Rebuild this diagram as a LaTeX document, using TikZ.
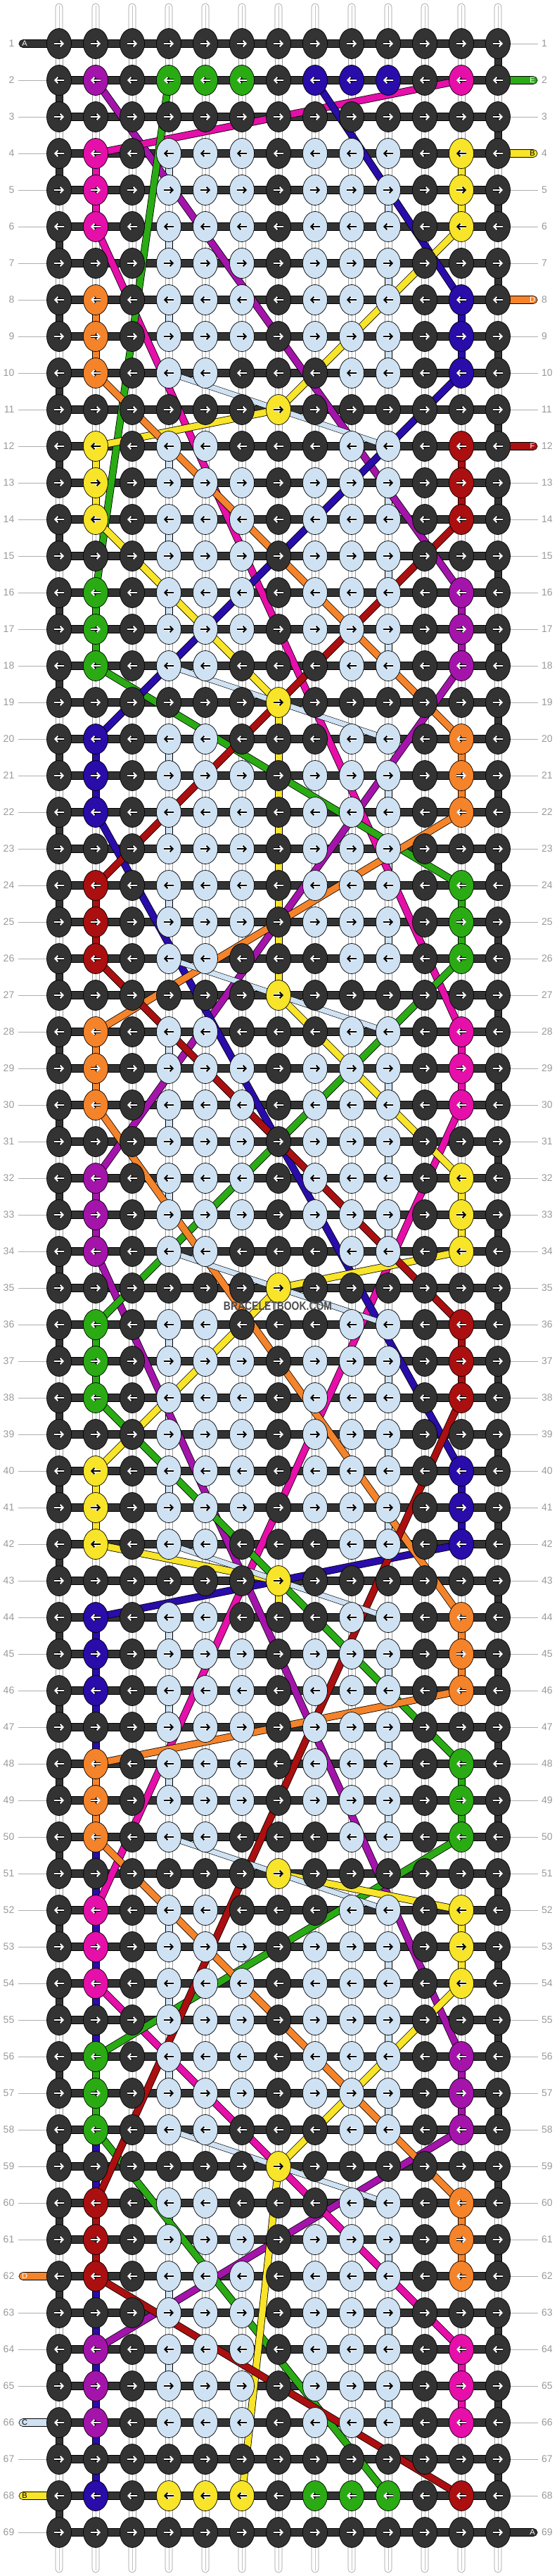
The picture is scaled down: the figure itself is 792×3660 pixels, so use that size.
\documentclass[tikz,border=0pt]{standalone}
\usepackage{fontspec}
\setmainfont{Liberation Sans}
\usetikzlibrary{shapes.geometric,arrows.meta}

\definecolor{cD}{HTML}{333333}
\definecolor{cL}{HTML}{CFE2F3}
\definecolor{cP}{HTML}{E60FAA}
\definecolor{cV}{HTML}{A414AB}
\definecolor{cG}{HTML}{2AAB14}
\definecolor{cB}{HTML}{290CAA}
\definecolor{cY}{HTML}{F8E428}
\definecolor{cO}{HTML}{F5832A}
\definecolor{cR}{HTML}{AB0F10}
\definecolor{rowgray}{HTML}{9A9A9A}

\pgfdeclarelayer{warps}
\pgfdeclarelayer{threads}
\pgfsetlayers{warps,threads,main}

\tikzset{
  ink D/.style={draw=white,line width=2pt}, halo D/.style={draw=black,line width=3.6pt},
  ink P/.style={draw=white,line width=2pt}, halo P/.style={draw=black,line width=3.6pt},
  ink V/.style={draw=white,line width=2pt}, halo V/.style={draw=black,line width=3.6pt},
  ink G/.style={draw=white,line width=2pt}, halo G/.style={draw=black,line width=3.6pt},
  ink B/.style={draw=white,line width=2pt}, halo B/.style={draw=black,line width=3.6pt},
  ink O/.style={draw=white,line width=2pt}, halo O/.style={draw=black,line width=3.6pt},
  ink R/.style={draw=white,line width=2pt}, halo R/.style={draw=black,line width=3.6pt},
  ink L/.style={draw=black,line width=2pt}, halo L/.style={draw=white,line width=3.6pt},
  ink Y/.style={draw=black,line width=2pt}, halo Y/.style={draw=white,line width=3.6pt},
}

\begin{document}
\begin{tikzpicture}[x=1pt,y=-1pt,
   knot/.style={ellipse, draw=black, line width=0.7pt, minimum width=35pt, minimum height=43pt, inner sep=0pt},
   tip/.style={-{Straight Barb[length=4pt,width=8.5pt]}},
   thread/.style={line width=0.8pt, draw=black, double=#1, double distance=9pt},
   cthread/.style={line width=0.6pt, draw=black, double=cL, double distance=7pt},
   warp/.style={fill=white, draw=rowgray, line width=0.6pt},
   seg/.style={fill=#1, draw=black, line width=0.6pt},
   bar/.style={fill=cD, draw=black, line width=0.6pt},
   tagbar/.style={fill=#1, draw=black, line width=0.6pt, rounded corners=5.5pt},
   rownum/.style={text=rowgray, inner sep=0pt, font=\fontsize{14}{14}\selectfont},
   tag/.style={inner sep=0pt, font=\fontsize{11}{11}\selectfont},
   gridline/.style={draw=rowgray!80, line width=0.8pt}]
\useasboundingbox (0,0) rectangle (792,3660);

% knots, one row per line
\foreach \r/\row in {
  1/{D,D,D,D,D,D,D,D,D,D,D,D,D},
  2/{D,V,D,G,G,G,D,B,B,B,D,P,D},
  3/{D,D,D,D,D,D,D,D,D,D,D,D,D},
  4/{D,P,D,L,L,L,D,L,L,L,D,Y,D},
  5/{D,P,D,L,L,L,D,L,L,L,D,Y,D},
  6/{D,P,D,L,L,L,D,L,L,L,D,Y,D},
  7/{D,D,D,L,L,L,D,L,L,L,D,D,D},
  8/{D,O,D,L,L,L,D,L,L,L,D,B,D},
  9/{D,O,D,L,L,L,D,L,L,L,D,B,D},
  10/{D,O,D,L,L,D,D,D,L,L,D,B,D},
  11/{D,D,D,D,D,D,Y,D,D,D,D,D,D},
  12/{D,Y,D,L,L,D,D,D,L,L,D,R,D},
  13/{D,Y,D,L,L,L,D,L,L,L,D,R,D},
  14/{D,Y,D,L,L,L,D,L,L,L,D,R,D},
  15/{D,D,D,L,L,L,D,L,L,L,D,D,D},
  16/{D,G,D,L,L,L,D,L,L,L,D,V,D},
  17/{D,G,D,L,L,L,D,L,L,L,D,V,D},
  18/{D,G,D,L,L,D,D,D,L,L,D,V,D},
  19/{D,D,D,D,D,D,Y,D,D,D,D,D,D},
  20/{D,B,D,L,L,D,D,D,L,L,D,O,D},
  21/{D,B,D,L,L,L,D,L,L,L,D,O,D},
  22/{D,B,D,L,L,L,D,L,L,L,D,O,D},
  23/{D,D,D,L,L,L,D,L,L,L,D,D,D},
  24/{D,R,D,L,L,L,D,L,L,L,D,G,D},
  25/{D,R,D,L,L,L,D,L,L,L,D,G,D},
  26/{D,R,D,L,L,D,D,D,L,L,D,G,D},
  27/{D,D,D,D,D,D,Y,D,D,D,D,D,D},
  28/{D,O,D,L,L,D,D,D,L,L,D,P,D},
  29/{D,O,D,L,L,L,D,L,L,L,D,P,D},
  30/{D,O,D,L,L,L,D,L,L,L,D,P,D},
  31/{D,D,D,L,L,L,D,L,L,L,D,D,D},
  32/{D,V,D,L,L,L,D,L,L,L,D,Y,D},
  33/{D,V,D,L,L,L,D,L,L,L,D,Y,D},
  34/{D,V,D,L,L,D,D,D,L,L,D,Y,D},
  35/{D,D,D,D,D,D,Y,D,D,D,D,D,D},
  36/{D,G,D,L,L,D,D,D,L,L,D,R,D},
  37/{D,G,D,L,L,L,D,L,L,L,D,R,D},
  38/{D,G,D,L,L,L,D,L,L,L,D,R,D},
  39/{D,D,D,L,L,L,D,L,L,L,D,D,D},
  40/{D,Y,D,L,L,L,D,L,L,L,D,B,D},
  41/{D,Y,D,L,L,L,D,L,L,L,D,B,D},
  42/{D,Y,D,L,L,D,D,D,L,L,D,B,D},
  43/{D,D,D,D,D,D,Y,D,D,D,D,D,D},
  44/{D,B,D,L,L,D,D,D,L,L,D,O,D},
  45/{D,B,D,L,L,L,D,L,L,L,D,O,D},
  46/{D,B,D,L,L,L,D,L,L,L,D,O,D},
  47/{D,D,D,L,L,L,D,L,L,L,D,D,D},
  48/{D,O,D,L,L,L,D,L,L,L,D,G,D},
  49/{D,O,D,L,L,L,D,L,L,L,D,G,D},
  50/{D,O,D,L,L,D,D,D,L,L,D,G,D},
  51/{D,D,D,D,D,D,Y,D,D,D,D,D,D},
  52/{D,P,D,L,L,D,D,D,L,L,D,Y,D},
  53/{D,P,D,L,L,L,D,L,L,L,D,Y,D},
  54/{D,P,D,L,L,L,D,L,L,L,D,Y,D},
  55/{D,D,D,L,L,L,D,L,L,L,D,D,D},
  56/{D,G,D,L,L,L,D,L,L,L,D,V,D},
  57/{D,G,D,L,L,L,D,L,L,L,D,V,D},
  58/{D,G,D,L,L,D,D,D,L,L,D,V,D},
  59/{D,D,D,D,D,D,Y,D,D,D,D,D,D},
  60/{D,R,D,L,L,D,D,D,L,L,D,O,D},
  61/{D,R,D,L,L,L,D,L,L,L,D,O,D},
  62/{D,R,D,L,L,L,D,L,L,L,D,O,D},
  63/{D,D,D,L,L,L,D,L,L,L,D,D,D},
  64/{D,V,D,L,L,L,D,L,L,L,D,P,D},
  65/{D,V,D,L,L,L,D,L,L,L,D,P,D},
  66/{D,V,D,L,L,L,D,L,L,L,D,P,D},
  67/{D,D,D,D,D,D,D,D,D,D,D,D,D},
  68/{D,B,D,Y,Y,Y,D,G,G,G,D,R,D},
  69/{D,D,D,D,D,D,D,D,D,D,D,D,D}} {
  \foreach \k [count=\c from 0] in \row {
    \node[knot, fill=c\k] (k-\r-\c) at ({84+52*\c},{10+52*\r}) {};
    \ifodd\r\relax
      \draw[tip, halo \k] ([xshift=-7pt]k-\r-\c.center) -- ([xshift=7pt]k-\r-\c.center);
      \draw[tip, ink \k] ([xshift=-7pt]k-\r-\c.center) -- ([xshift=7pt]k-\r-\c.center);
    \else
      \draw[tip, halo \k] ([xshift=7pt]k-\r-\c.center) -- ([xshift=-7pt]k-\r-\c.center);
      \draw[tip, ink \k] ([xshift=7pt]k-\r-\c.center) -- ([xshift=-7pt]k-\r-\c.center);
    \fi
  }
}

% row numbers
\foreach \r in {1,...,69} {
  \node[rownum, anchor=east] (nl-\r) at (20.5,{10+52*\r}) {\r};
  \node[rownum, anchor=west] (nr-\r) at (770,{10+52*\r}) {\r};
}

\begin{pgfonlayer}{warps}
\fill[white] (0,0) rectangle (792,3660);
% plain warps
\foreach \r in {1,...,68} {
  \pgfmathtruncatemacro\n{\r+1}
  \foreach \c in {0,...,12} {
    \draw[warp] ([xshift=-5pt]k-\r-\c.center) rectangle ([xshift=5pt]k-\n-\c.center);
    \draw[rowgray!60, line width=0.4pt] (k-\r-\c.center) -- (k-\n-\c.center);
  }
}
\foreach \c in {0,...,12} {
  \draw[warp, rounded corners=5pt] ([xshift=-5pt]k-1-\c.center) -- ++(0,-57) -- ++(10,0) -- ++(0,57);
  \draw[warp, rounded corners=5pt] ([xshift=-5pt]k-69-\c.center) -- ++(0,57) -- ++(10,0) -- ++(0,-57);
  \draw[rowgray!60, line width=0.4pt] (k-1-\c.center) -- ++(0,-54);
  \draw[rowgray!60, line width=0.4pt] (k-69-\c.center) -- ++(0,54);
}
% coloured warps
\foreach \r in {2,4,...,68} {
  \pgfmathtruncatemacro\n{\r+1}
  \draw[seg=cD] ([xshift=-5pt]k-\r-0.center) rectangle ([xshift=5pt]k-\n-0.center);
}
\foreach \r in {1,3,...,67} {
  \pgfmathtruncatemacro\n{\r+1}
  \draw[seg=cD] ([xshift=-5pt]k-\r-12.center) rectangle ([xshift=5pt]k-\n-12.center);
}
\foreach \r in {19,...,26,43,...,50} {
  \pgfmathtruncatemacro\n{\r+1}
  \draw[seg=cY] ([xshift=-5pt]k-\r-6.center) rectangle ([xshift=5pt]k-\n-6.center);
}
\foreach \r in {46,...,67} {
  \pgfmathtruncatemacro\n{\r+1}
  \draw[seg=cB] ([xshift=-5pt]k-\r-1.center) rectangle ([xshift=5pt]k-\n-1.center);
}
\foreach \s in {4,12,...,60} {
  \foreach \d in {0,2,4} {
    \pgfmathtruncatemacro\r{\s+\d}
    \pgfmathtruncatemacro\n{\s+\d+1}
    \pgfmathtruncatemacro\m{\s+\d+2}
    \draw[seg=cL] ([xshift=-5pt]k-\r-3.center) rectangle ([xshift=5pt]k-\n-3.center);
    \draw[seg=cL] ([xshift=-5pt]k-\n-9.center) rectangle ([xshift=5pt]k-\m-9.center);
  }
}
\foreach \s/\lc/\rc in {4/P/Y, 8/O/B, 12/Y/R, 16/G/V, 20/B/O, 24/R/G, 28/O/P, 32/V/Y,
    36/G/R, 40/Y/B, 44/B/O, 48/O/G, 52/B/Y, 56/G/V, 60/R/O, 64/B/P} {
  \foreach \d in {0,1} {
    \pgfmathtruncatemacro\r{\s+\d}
    \pgfmathtruncatemacro\n{\s+\d+1}
    \draw[seg=c\lc] ([xshift=-5pt]k-\r-1.center) rectangle ([xshift=5pt]k-\n-1.center);
    \draw[seg=c\rc] ([xshift=-5pt]k-\r-11.center) rectangle ([xshift=5pt]k-\n-11.center);
  }
}
% weft bars and guide lines
\foreach \r in {1,...,69} {
  \draw[bar] ([yshift=-5.5pt]k-\r-0.center) rectangle ([yshift=5.5pt]k-\r-12.center);
  \draw[gridline] ([xshift=5.5pt]nl-\r.east) -- (k-\r-0);
  \draw[gridline] (k-\r-12) -- ([xshift=-5pt]nr-\r.west);
}
\foreach \r/\tone in {1/cD, 62/cO, 66/cL, 68/cY}
  \draw[tagbar=\tone] ([xshift=-57pt,yshift=-5.5pt]k-\r-0.center) rectangle ([xshift=6pt,yshift=5.5pt]k-\r-0.center);
\foreach \r/\tone in {2/cG, 4/cY, 8/cO, 12/cR, 69/cD}
  \draw[tagbar=\tone] ([xshift=-6pt,yshift=-5.5pt]k-\r-12.center) rectangle ([xshift=56pt,yshift=5.5pt]k-\r-12.center);
\end{pgfonlayer}

\begin{pgfonlayer}{threads}
\foreach \src/\dst/\tone in {
  2-1/16-11/cV, 18-11/32-1/cV, 34-1/56-11/cV, 58-11/64-1/cV,
  2-11/4-1/cP, 6-1/28-11/cP, 30-11/52-1/cP, 54-1/64-11/cP,
  2-3/16-1/cG, 18-1/24-11/cG, 26-11/36-1/cG, 38-1/48-11/cG, 50-11/56-1/cG, 58-1/68-9/cG,
  2-7/8-11/cB, 10-11/20-1/cB, 22-1/40-11/cB, 42-11/44-1/cB,
  6-11/11-6/cY, 11-6/12-1/cY, 14-1/19-6/cY, 27-6/32-11/cY, 34-11/35-6/cY,
  35-6/40-1/cY, 42-1/43-6/cY, 51-6/52-11/cY, 54-11/59-6/cY, 59-6/68-5/cY,
  10-1/20-11/cO, 22-11/28-1/cO, 30-1/44-11/cO, 46-11/48-1/cO, 50-1/60-11/cO,
  14-11/24-1/cR, 26-1/36-11/cR, 38-11/60-1/cR, 62-1/68-11/cR}
  \draw[thread=\tone] (k-\src.center) -- (k-\dst.center);
\foreach \r in {10,18,...,58} {
  \pgfmathtruncatemacro\n{\r+2}
  \draw[cthread] (k-\r-3.center) -- (k-\n-9.center);
}
\end{pgfonlayer}

% string letters
\foreach \r/\txt/\ink in {1/A/white, 62/D/white, 66/C/black, 68/B/black}
  \node[tag, text=\ink] (tl-\r) at ([xshift=-49pt]k-\r-0.center) {\txt};
\foreach \r/\txt/\ink in {2/E/white, 4/B/black, 8/D/white, 12/F/white, 69/A/white}
  \node[tag, text=\ink] (tr-\r) at ([xshift=49pt]k-\r-12.center) {\txt};

\node[text=black!70, font=\bfseries\fontsize{17}{17}\selectfont] (mark) at (395,1856)
  {\scalebox{0.82}[1]{BRACELETBOOK.COM}};
\end{tikzpicture}
\end{document}
